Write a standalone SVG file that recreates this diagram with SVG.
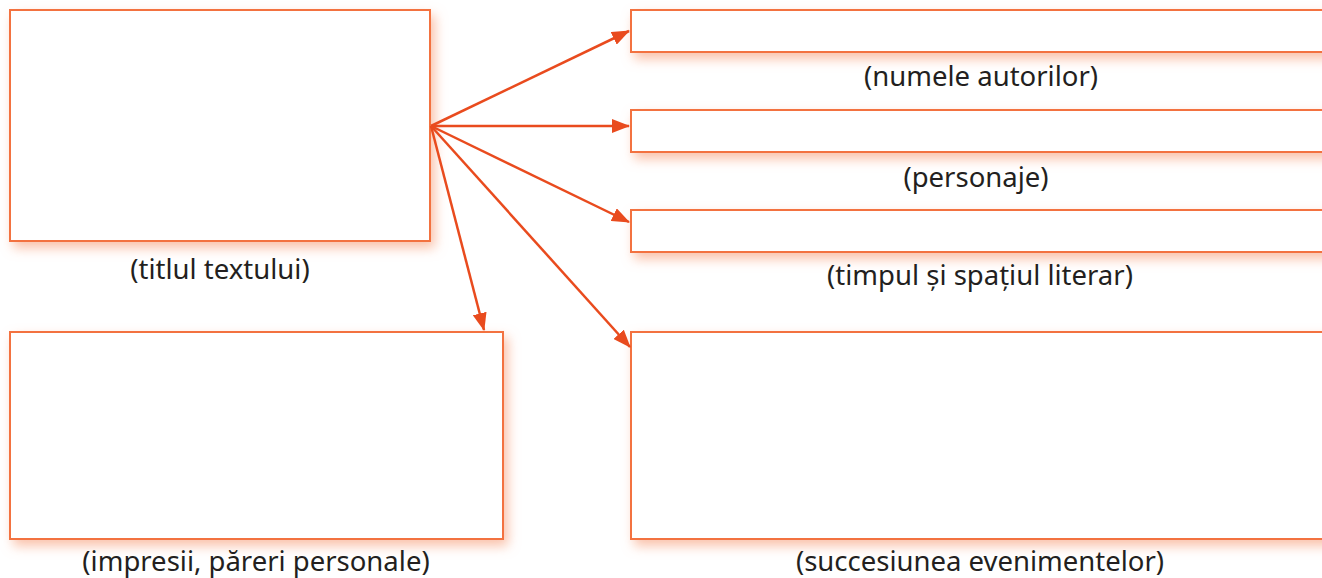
<svg xmlns="http://www.w3.org/2000/svg" width="1322" height="578" viewBox="0 0 1322 578">
<style>
.box{fill:#fff;stroke:#f37241;stroke-width:2;filter:url(#glow)}
.lbl{font-family:"Noto Sans","Open Sans","Liberation Sans",sans-serif;font-size:27.5px;fill:#231f20;text-anchor:middle}
.con{stroke:#e94b1e;stroke-width:2.5;fill:none;marker-end:url(#ah)}
</style>
<defs>
<filter id="glow" x="-10%" y="-30%" width="125%" height="180%">
<feDropShadow dx="4" dy="6" stdDeviation="6" flood-color="#f79a72" flood-opacity="0.6"/>
</filter>
<marker id="ah" viewBox="0 0 18 14" refX="17" refY="7" markerWidth="18" markerHeight="14" markerUnits="userSpaceOnUse" orient="auto">
<path d="M0,0 L18,7 L0,14 Z" fill="#e94b1e"/>
</marker>
</defs>
<rect width="1322" height="578" fill="#fff"/>
<g id="titlul">
<rect class="box" x="10" y="10" width="420" height="231"/>
<text class="lbl" x="220" y="279">(titlul textului)</text>
</g>
<g id="impresii">
<rect class="box" x="10" y="332" width="493" height="207"/>
<text class="lbl" x="256" y="571">(impresii, păreri personale)</text>
</g>
<g id="autori">
<rect class="box" x="631" y="10" width="700" height="42"/>
<text class="lbl" x="981" y="86">(numele autorilor)</text>
</g>
<g id="personaje">
<rect class="box" x="631" y="110" width="700" height="42"/>
<text class="lbl" x="976" y="187">(personaje)</text>
</g>
<g id="timpul">
<rect class="box" x="631" y="210" width="700" height="42"/>
<text class="lbl" x="980" y="285">(timpul și spațiul literar)</text>
</g>
<g id="succesiunea">
<rect class="box" x="631" y="332" width="700" height="207"/>
<text class="lbl" x="980" y="571">(succesiunea evenimentelor)</text>
</g>
<g id="connectors">
<line class="con" x1="431" y1="126" x2="629" y2="31"/>
<line class="con" x1="431" y1="126" x2="629" y2="126"/>
<line class="con" x1="431" y1="126" x2="629" y2="222"/>
<line class="con" x1="431" y1="126" x2="484" y2="330"/>
<line class="con" x1="431" y1="126" x2="630" y2="347"/>
</g>
</svg>
